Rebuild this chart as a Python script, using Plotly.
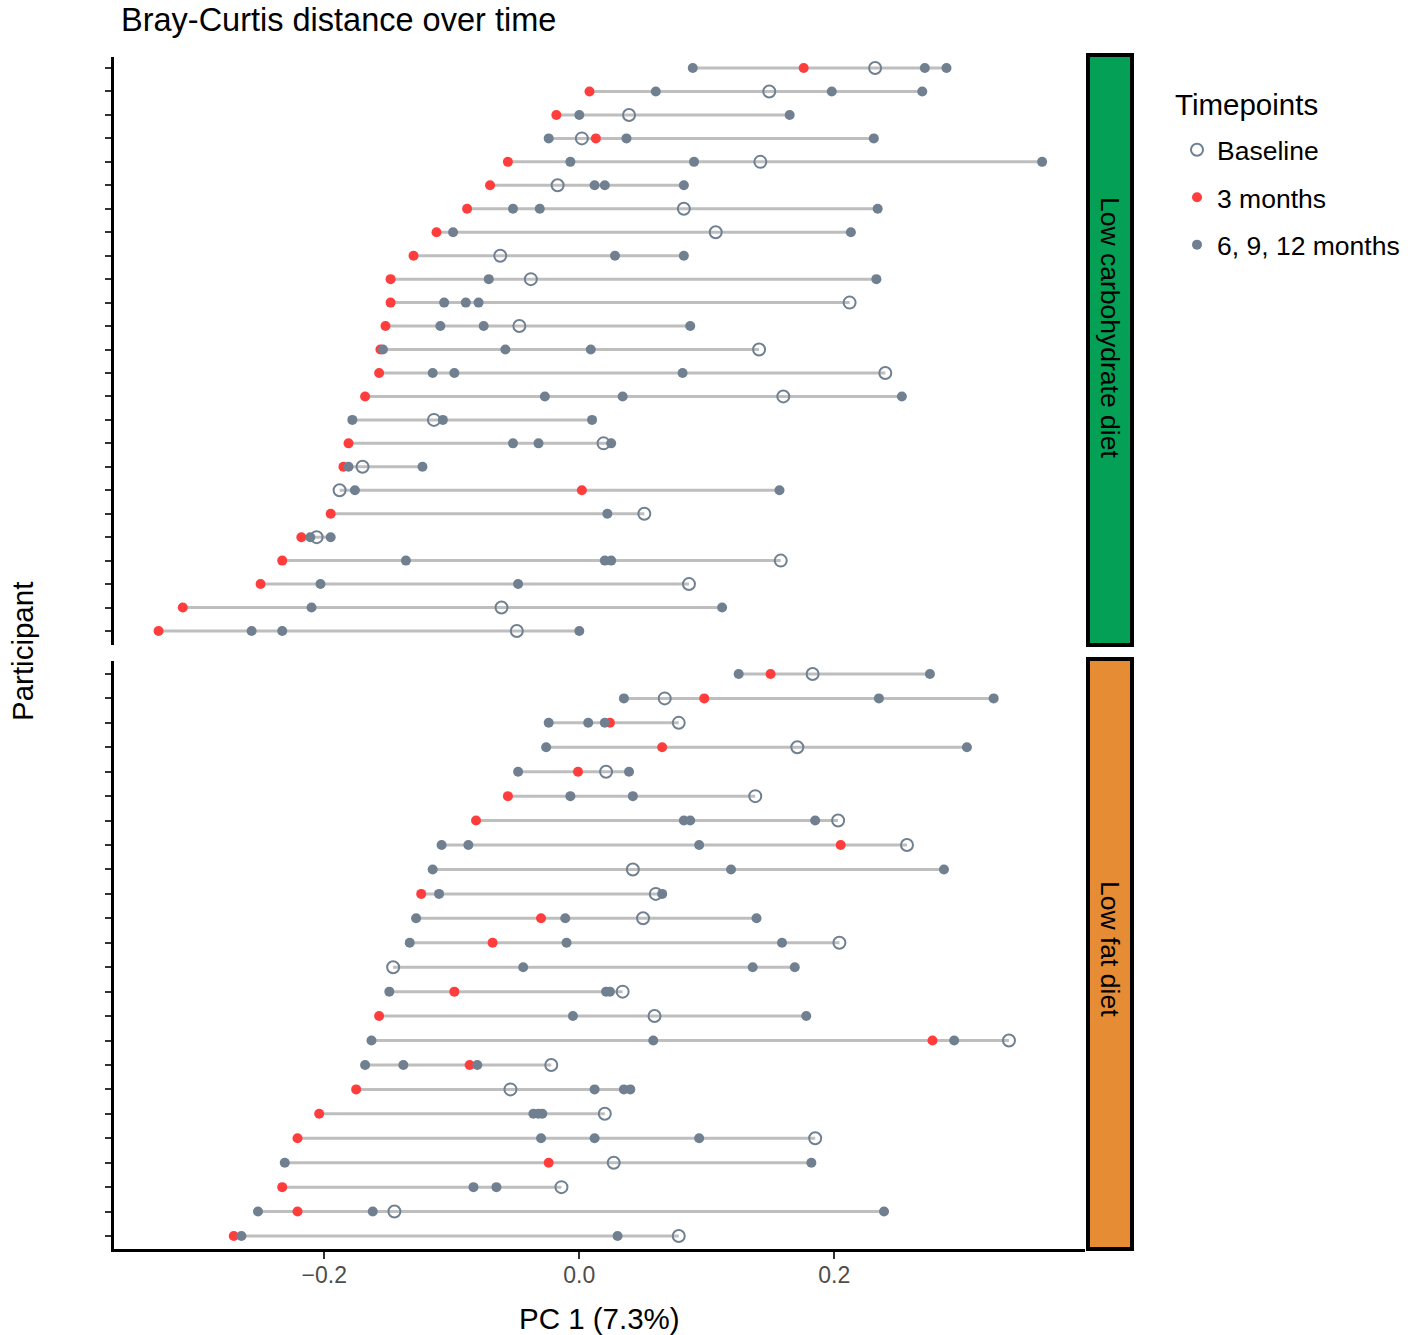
import plotly.graph_objects as go

W, H = 1421, 1335

# ---------------- data (PC 1 scores) ----------------
diets = ["Low carbohydrate diet", "Low fat diet"]

# Low carbohydrate diet, participants listed top -> bottom
lc_baseline = [0.232, 0.149, 0.039, 0.002, 0.142, -0.017, 0.082, 0.107, -0.062, -0.038,
               0.212, -0.047, 0.141, 0.240, 0.160, -0.114, 0.019, -0.170, -0.188, 0.051,
               -0.206, 0.158, 0.086, -0.061, -0.049]
lc_month3 = [0.176, 0.008, -0.018, 0.013, -0.056, -0.070, -0.088, -0.112, -0.130, -0.148,
             -0.148, -0.152, -0.156, -0.157, -0.168, None, -0.181, -0.185, 0.002, -0.195,
             -0.218, -0.233, -0.250, -0.311, -0.330]
lc_later = [
    [0.089, 0.271, 0.288],
    [0.060, 0.198, 0.269],
    [0.000, 0.165],
    [-0.024, 0.037, 0.231],
    [-0.007, 0.090, 0.363],
    [0.012, 0.020, 0.082],
    [-0.052, -0.031, 0.234],
    [-0.099, 0.213],
    [0.028, 0.082],
    [-0.071, 0.233],
    [-0.106, -0.089, -0.079],
    [-0.109, -0.075, 0.087],
    [-0.154, -0.058, 0.009],
    [-0.115, -0.098, 0.081],
    [-0.027, 0.034, 0.253],
    [-0.178, -0.107, 0.010],
    [-0.052, -0.032, 0.025],
    [-0.181, -0.123],
    [-0.176, 0.157],
    [0.022],
    [-0.211, -0.195],
    [-0.136, 0.020, 0.025],
    [-0.203, -0.048],
    [-0.210, 0.112],
    [-0.257, -0.233, 0.000],
]

# Low fat diet, participants listed top -> bottom
lf_baseline = [0.183, 0.067, 0.078, 0.171, 0.021, 0.138, 0.203, 0.257, 0.042, 0.060,
               0.050, 0.204, -0.146, 0.034, 0.059, 0.337, -0.022, -0.054, 0.020, 0.185,
               0.027, -0.014, -0.145, 0.078]
lf_month3 = [0.150, 0.098, 0.024, 0.065, -0.001, -0.056, -0.081, 0.205, None, -0.124,
             -0.030, -0.068, None, -0.098, -0.157, 0.277, -0.086, -0.175, -0.204, -0.221,
             -0.024, -0.233, -0.221, -0.271]
lf_later = [
    [0.125, 0.275],
    [0.035, 0.235, 0.325],
    [-0.024, 0.007, 0.020],
    [-0.026, 0.304],
    [-0.048, 0.039],
    [-0.007, 0.042],
    [0.082, 0.087, 0.185],
    [-0.108, -0.087, 0.094],
    [-0.115, 0.119, 0.286],
    [-0.110, 0.065],
    [-0.128, -0.011, 0.139],
    [-0.133, -0.010, 0.159],
    [-0.044, 0.136, 0.169],
    [-0.149, 0.021, 0.024],
    [-0.005, 0.178],
    [-0.163, 0.058, 0.294],
    [-0.168, -0.138, -0.080],
    [0.012, 0.035, 0.040],
    [-0.036, -0.032, -0.029],
    [-0.030, 0.012, 0.094],
    [-0.231, 0.182],
    [-0.083, -0.065],
    [-0.252, -0.162, 0.239],
    [-0.265, 0.030],
]

x_ticks = [-0.2, 0.0, 0.2]
x_ticktext = ["\u22120.2", "0.0", "0.2"]
legend_labels = ["Baseline", "3 months", "6, 9, 12 months"]

# ---------------- styling ----------------
FONT = "Liberation Sans, Arial, Helvetica, sans-serif"
RED = "#FF3D3D"
SLATE = "#708090"
SEG = "#BEBEBE"
STRIP_COLORS = ["#03A055", "#E68C35"]

def px_x(p):
    return p / W

def px_y(p):
    return 1 - p / H

plot_x0, plot_x1 = 114, 1085
panels_px = [(57, 645), (661, 1249)]
strip_text_y = [327, 949]

fig = go.Figure()

groups = [(lc_baseline, lc_month3, lc_later), (lf_baseline, lf_month3, lf_later)]

for k, (base, m3, later) in enumerate(groups):
    n = len(base)
    ys = [n - i for i in range(n)]
    xa = "x" if k == 0 else "x2"
    ya = "y" if k == 0 else "y2"
    # segments
    sx, sy = [], []
    for i in range(n):
        vals = [base[i]] + ([m3[i]] if m3[i] is not None else []) + later[i]
        sx += [min(vals), max(vals), None]
        sy += [ys[i], ys[i], None]
    fig.add_trace(go.Scatter(x=sx, y=sy, mode="lines", line=dict(color=SEG, width=3),
                             xaxis=xa, yaxis=ya, showlegend=False, hoverinfo="skip"))
    # 3 months
    rx = [m3[i] for i in range(n) if m3[i] is not None]
    ry = [ys[i] for i in range(n) if m3[i] is not None]
    fig.add_trace(go.Scatter(x=rx, y=ry, mode="markers",
                             marker=dict(color=RED, size=10, line=dict(width=0)),
                             xaxis=xa, yaxis=ya, name=legend_labels[1],
                             legendgroup="m3", legendrank=2, showlegend=(k == 0)))
    # later months
    gx, gy = [], []
    for i in range(n):
        for v in later[i]:
            gx.append(v)
            gy.append(ys[i])
    fig.add_trace(go.Scatter(x=gx, y=gy, mode="markers",
                             marker=dict(color=SLATE, size=10, line=dict(width=0)),
                             xaxis=xa, yaxis=ya, name=legend_labels[2],
                             legendgroup="later", legendrank=3, showlegend=(k == 0)))
    # baseline
    fig.add_trace(go.Scatter(x=base, y=ys, mode="markers",
                             marker=dict(symbol="circle-open", color=SLATE, size=12,
                                         line=dict(width=2, color=SLATE)),
                             xaxis=xa, yaxis=ya, name=legend_labels[0],
                             legendgroup="base", legendrank=1, showlegend=(k == 0)))

xrange = [(plot_x0 - 579.3) / 1275, (plot_x1 - 579.3) / 1275]
xdom = [px_x(plot_x0), px_x(plot_x1)]

n_top = len(lc_baseline)
n_bot = len(lf_baseline)

yaxis_common = dict(showgrid=False, zeroline=False, showline=True, linecolor="black",
                    linewidth=3, ticks="outside", ticklen=6, tickwidth=2, tickcolor="#333333",
                    showticklabels=False, fixedrange=True)

fig.update_layout(
    width=W, height=H,
    margin=dict(l=0, r=0, t=0, b=0),
    paper_bgcolor="white", plot_bgcolor="white",
    font=dict(family=FONT, color="black"),
    xaxis=dict(domain=xdom, range=xrange, anchor="y", showgrid=False, zeroline=False,
               showline=False, showticklabels=False, ticks="", matches="x2"),
    yaxis=dict(domain=[px_y(panels_px[0][1]), px_y(panels_px[0][0])],
               range=[0.403, n_top + 0.47], tickvals=list(range(1, n_top + 1)),
               anchor="x", **yaxis_common),
    xaxis2=dict(domain=xdom, range=xrange, anchor="y2", showgrid=False, zeroline=False,
                showline=True, linecolor="black", linewidth=3, ticks="outside",
                ticklen=7, tickwidth=2, tickcolor="#333333", tickvals=x_ticks,
                ticktext=x_ticktext, ticklabelstandoff=-4,
                tickfont=dict(size=23, color="#4D4D4D", family=FONT)),
    yaxis2=dict(domain=[px_y(panels_px[1][1]), px_y(panels_px[1][0])],
                range=[0.468, n_bot + 0.53], tickvals=list(range(1, n_bot + 1)),
                anchor="x2", **yaxis_common),
    legend=dict(x=px_x(1177), y=px_y(126), xanchor="left", yanchor="top",
                font=dict(size=26.5, family=FONT), tracegroupgap=10,
                bgcolor="rgba(0,0,0,0)", itemsizing="trace"),
    showlegend=True,
)

shapes = []
annotations = []
for k, (y0, y1) in enumerate(panels_px):
    shapes.append(dict(type="rect", xref="paper", yref="paper",
                       x0=px_x(1088), x1=px_x(1132), y0=px_y(y1), y1=px_y(y0 - 2),
                       fillcolor=STRIP_COLORS[k], line=dict(color="black", width=4)))
    annotations.append(dict(text=diets[k], xref="paper", yref="paper",
                            x=px_x(1110), y=px_y(strip_text_y[k]), xanchor="center",
                            yanchor="middle", showarrow=False, textangle=90,
                            font=dict(size=26.5, color="black", family=FONT)))

annotations.append(dict(text="Bray-Curtis distance over time", xref="paper", yref="paper",
                        x=px_x(119), y=px_y(20), xanchor="left", yanchor="middle",
                        showarrow=False, font=dict(size=32.5, color="black", family=FONT)))
annotations.append(dict(text="Timepoints", xref="paper", yref="paper",
                        x=px_x(1173), y=px_y(105), xanchor="left", yanchor="middle",
                        showarrow=False, font=dict(size=29.5, color="black", family=FONT)))
annotations.append(dict(text="PC 1 (7.3%)", xref="paper", yref="paper",
                        x=px_x(599), y=px_y(1318), xanchor="center", yanchor="middle",
                        showarrow=False, font=dict(size=29.5, color="black", family=FONT)))
annotations.append(dict(text="Participant", xref="paper", yref="paper",
                        x=px_x(22), y=px_y(652), xanchor="center", yanchor="middle",
                        textangle=-90, showarrow=False,
                        font=dict(size=29.5, color="black", family=FONT)))

fig.update_layout(shapes=shapes, annotations=annotations)

fig.write_html("out.html", config={"displayModeBar": False},
               post_script="document.body.style.margin='0px';document.body.style.overflow='hidden';")
